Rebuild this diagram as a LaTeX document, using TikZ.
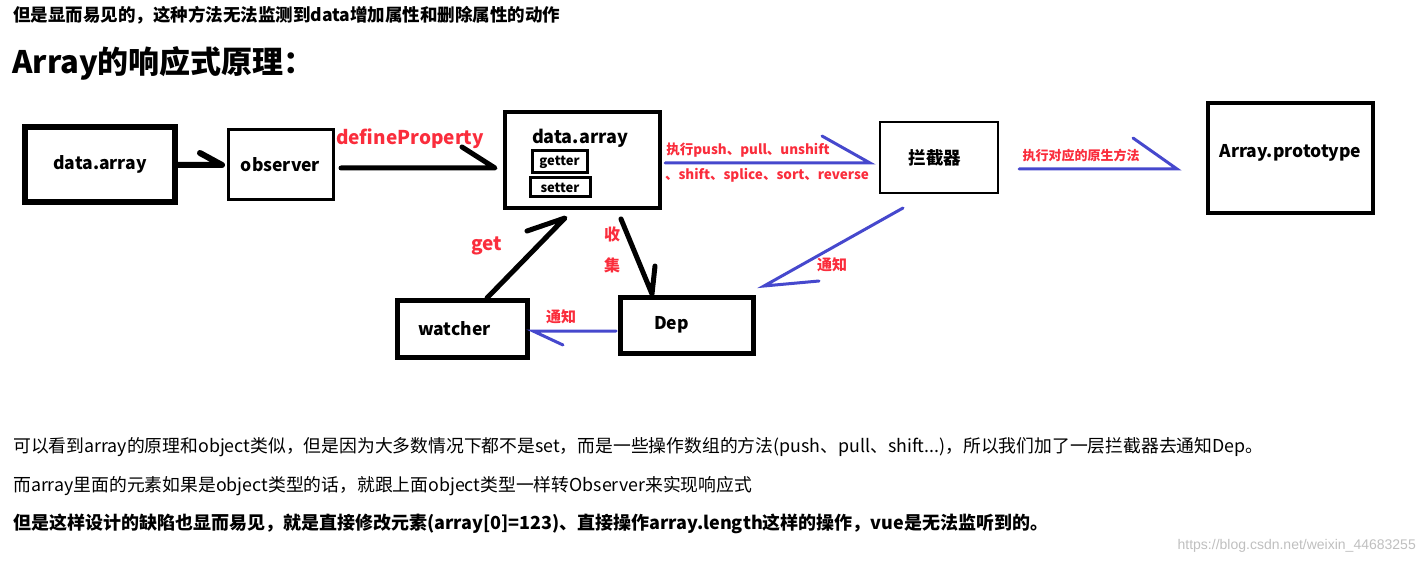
\documentclass[tikz,border=0pt]{standalone}
\usepackage{fontspec}
\setmainfont{Noto Sans CJK SC}
\newfontfamily\wm{Liberation Sans}
\definecolor{myblue}{RGB}{70,72,205}
\definecolor{myred}{RGB}{250,45,60}
\begin{document}
\begin{tikzpicture}[x=1pt,y=-1pt,
  box/.style={draw=black,inner sep=0pt,font=\fontsize{17.5}{20}\selectfont\bfseries},
  red/.style={text=myred,font=\fontsize{#1}{#1}\selectfont\bfseries},
  red/.default=16,
  blk/.style={draw=black,line width=#1,line cap=round,line join=round},
  blu/.style={draw=myblue,line width=#1,line cap=round},
  txt/.style={anchor=west,inner sep=0pt,font=\fontsize{17.8}{20}\selectfont}]
\useasboundingbox (0,0) rectangle (1424,564);
% texts
\node[txt,font=\fontsize{17.5}{18}\selectfont\bfseries] (t1) at (13,15) {但是显而易见的，这种方法无法监测到data增加属性和删除属性的动作};
\node[txt,font=\fontsize{31}{32}\selectfont\bfseries] (t2) at (12,63) {Array的响应式原理：};
\node[txt] (b1) at (13,447) {可以看到array的原理和object类似，但是因为大多数情况下都不是set，而是一些操作数组的方法(push、pull、shift...)，所以我们加了一层拦截器去通知Dep。};
\node[txt] (b2) at (13,486) {而array里面的元素如果是object类型的话，就跟上面object类型一样转Observer来实现响应式};
\node[txt,font=\fontsize{18}{20}\selectfont\bfseries] (b3) at (13,524) {但是这样设计的缺陷也显而易见，就是直接修改元素(array[0]=123)、直接操作array.length这样的操作，vue是无法监听到的。};
\node[anchor=east,inner sep=0pt,text=black!25,font=\wm\fontsize{14}{16}\selectfont] (w) at (1416,546) {https://blog.csdn.net/weixin\_44683255};
% boxes
\node[box,line width=6pt,minimum width=150pt,minimum height=75pt] (da) at (100,164.5) {data.array};
\node[box,line width=3pt,minimum width=105pt,minimum height=70pt] (ob) at (280.5,165) {\raisebox{-3pt}{observer}};
\node[box,line width=4pt,minimum width=155pt,minimum height=96pt] (dar) at (582.5,160) {};
\node[inner sep=0pt,font=\fontsize{18}{20}\selectfont\bfseries] (darl) at (580,138) {data.array};
\node[box,line width=3pt,minimum width=55pt,minimum height=22pt,font=\fontsize{13}{14}\selectfont\bfseries] (get) at (559.5,162) {getter};
\node[box,line width=3pt,minimum width=60pt,minimum height=19pt,font=\fontsize{13}{14}\selectfont\bfseries] (set) at (560,187.5) {setter};
\node[box,line width=2pt,minimum width=118pt,minimum height=71pt] (lj) at (939,157.5) {\hspace*{-8pt}拦截器};
\node[box,line width=4pt,minimum width=165pt,minimum height=110pt] (ap) at (1290.5,158) {\raisebox{14pt}{Array.prototype}};
\node[box,line width=5pt,minimum width=130pt,minimum height=57pt] (wa) at (462,328.5) {\hspace*{-15pt}watcher};
\node[box,line width=5pt,minimum width=133pt,minimum height=56pt] (dep) at (686.5,325) {\hspace*{-30pt}\raisebox{-3pt}{Dep}};
% arrows
\coordinate (a1) at (178,165); \coordinate (a2) at (222,165);
\draw[blk=6pt] (a1) -- (a2) -- (200,153);
\coordinate (c1) at (341,168); \coordinate (c2) at (495,168);
\draw[blk=5pt] (c1) -- (c2) -- (462,147);
\node[red=19] (dp) at (410,139) {defineProperty};
\coordinate (d1) at (665,163); \coordinate (d2) at (870,163);
\draw[blu=3pt] (d1) -- (d2) -- (822,136);
\node[red=13.5] (l1) at (748,150) {执行push、pull、unshift};
\node[red=13.5] (l2) at (767,175) {、shift、splice、sort、reverse};
\coordinate (e1) at (1019,169); \coordinate (e2) at (1177,169);
\draw[blu=3pt] (e1) -- (e2) -- (1133,138);
\node[red=13] (l3) at (1081,156) {执行对应的原生方法};
\coordinate (f1) at (903,208); \coordinate (f2) at (764,286);
\draw[blu=3pt] (f1) -- (f2) -- (819,281);
\node[red=15] (l4) at (832,265) {通知};
\coordinate (g1) at (616,331); \coordinate (g2) at (533,331);
\draw[blu=3pt] (g1) -- (g2) -- (563,345);
\node[red=15] (l5) at (561,317) {通知};
\coordinate (h1) at (621,219); \coordinate (h2) at (652,294);
\draw[blk=5pt] (h1) -- (h2) -- (655,266);
\node[red=16] (l6) at (612,234) {收};
\node[red=16] (l7) at (612,265) {集};
\coordinate (k1) at (487,298); \coordinate (k2) at (565,218);
\draw[blk=5pt] (k1) -- (k2) -- (527,231);
\node[red=19] (l8) at (487,246) {get};
\end{tikzpicture}
\end{document}
